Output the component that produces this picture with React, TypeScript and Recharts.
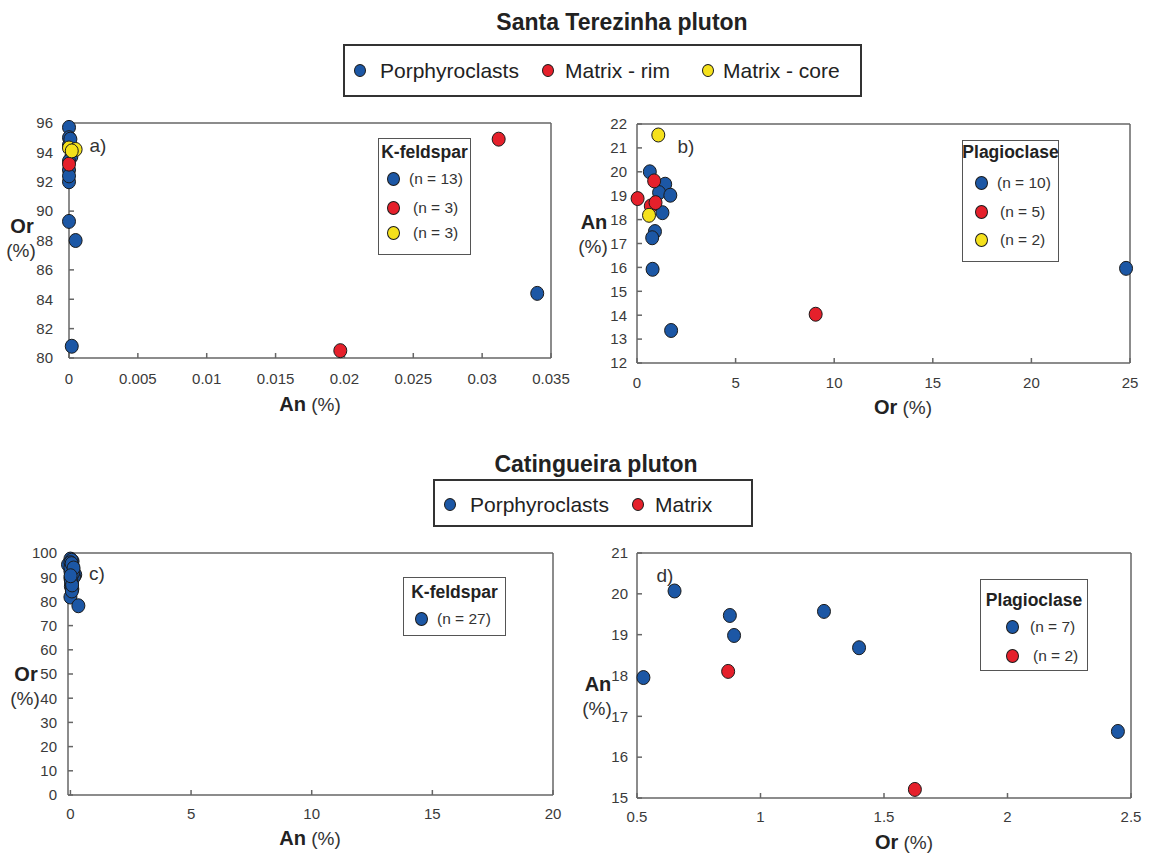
import React from 'react';
import { ScatterChart, Scatter, XAxis, YAxis } from 'recharts';

const BLUE = '#1c57a5';
const RED = '#e5202b';
const YELLOW = '#f5e11c';
const AXIS = '#666666';
const FONT = '"Liberation Sans", Arial, sans-serif';

// ---------- Panel a: Santa Terezinha K-feldspar (x = An %, y = Or %)
const aXTicks = [0, 0.005, 0.01, 0.015, 0.02, 0.025, 0.03, 0.035];
const aYTicks = [80, 82, 84, 86, 88, 90, 92, 94, 96];
const aBlueAn = [0, 0, 0, 0.00017, 0, 0, 0, 0.00048, 0.0002, 0.034, 0, 0, 0.0001];
const aBlueOr = [95.7, 95.0, 94.5, 93.7, 92.8, 92.0, 89.3, 88.0, 80.8, 84.4, 93.4, 92.4, 94.9];
const aRedAn = [0, 0.0312, 0.0197];
const aRedOr = [93.2, 94.9, 80.5];
const aYellowAn = [0, 0.00048, 0.0002];
const aYellowOr = [94.3, 94.2, 94.1];

// ---------- Panel b: Santa Terezinha plagioclase (x = Or %, y = An %)
const bXTicks = [0, 5, 10, 15, 20, 25];
const bYTicks = [12, 13, 14, 15, 16, 17, 18, 19, 20, 21, 22];
const bBlueOr = [0.65, 1.43, 1.12, 1.69, 1.29, 0.91, 0.77, 0.79, 1.73, 24.8];
const bBlueAn = [20.0, 19.48, 19.13, 19.02, 18.29, 17.5, 17.24, 15.92, 13.36, 15.96];
const bRedOr = [0.03, 0.87, 0.7, 0.94, 9.06];
const bRedAn = [18.88, 19.62, 18.57, 18.71, 14.04];
const bYellowOr = [1.08, 0.61];
const bYellowAn = [21.54, 18.18];

// ---------- Panel c: Catingueira K-feldspar (x = An %, y = Or %)
const cXTicks = [0, 5, 10, 15, 20];
const cYTicks = [0, 10, 20, 30, 40, 50, 60, 70, 80, 90, 100];
const cBlueAn = [0, 0.09, -0.1, 0.12, 0.2, 0, 0.07, 0.02, 0, 0.33, 0.05, 0.1, 0, 0.15, 0.03, 0.08, 0, 0.12, 0.04, 0.06, 0, 0.1, 0.02, 0.07, 0.05, 0.13, 0.01];
const cBlueOr = [97.5, 96.6, 95.2, 93.1, 91.0, 89.7, 88.3, 86.2, 81.8, 78.2, 97.0, 94.4, 92.5, 90.2, 87.5, 85.1, 96.0, 92.0, 89.0, 84.3, 94.0, 91.5, 88.8, 86.8, 95.6, 93.8, 90.6];

// ---------- Panel d: Catingueira plagioclase (x = Or %, y = An %)
const dXTicks = [0.5, 1, 1.5, 2, 2.5];
const dYTicks = [15, 16, 17, 18, 19, 20, 21];
const dBlueOr = [0.526, 0.652, 0.876, 0.893, 1.257, 1.399, 2.447];
const dBlueAn = [17.95, 20.07, 19.47, 18.98, 19.57, 18.68, 16.63];
const dRedOr = [0.869, 1.625];
const dRedAn = [18.1, 15.21];

const pts = (xs: number[], ys: number[]) => xs.map((x, i) => ({ x, y: ys[i] }));

const dot = (fill: string) => (props: any) => (
  <ellipse cx={props.cx} cy={props.cy} rx={6.5} ry={7} fill={fill} stroke="#1b1b1b" strokeWidth={1} />
);

type Series = { name: string; color: string; data: { x: number; y: number }[] };

function Panel(p: {
  left: number; top: number; width: number; height: number;
  px0: number; px1: number; py0: number; py1: number;
  xDomain: [number, number]; xTicks: number[];
  yDomain: [number, number]; yTicks: number[];
  xTickMargin: number; yTickMargin: number; series: Series[];
}) {
  const axisW = 40, axisH = 30, extra = 10;
  const margin = {
    left: p.px0 - p.left - axisW,
    right: p.left + p.width - p.px1 - extra,
    top: p.py0 - p.top - extra,
    bottom: p.top + p.height - p.py1 - axisH,
  };
  const line = { stroke: AXIS, strokeWidth: 1.5 };
  const tick = { fill: '#3a3a3a', fontSize: 15, fontFamily: FONT };
  return (
    <div style={{ position: 'absolute', left: p.left, top: p.top }}>
      <ScatterChart width={p.width} height={p.height} margin={margin}>
        <XAxis xAxisId="b" type="number" dataKey="x" orientation="bottom" domain={p.xDomain} ticks={p.xTicks} fontSize={15}
          interval={0} height={axisH} tickSize={-5} tickMargin={p.xTickMargin} axisLine={line} tickLine={line} tick={tick} />
        <XAxis xAxisId="t" type="number" dataKey="x" orientation="top" domain={p.xDomain} ticks={p.xTicks}
          interval={0} height={extra} tickSize={-5} axisLine={line} tickLine={line} tick={false} />
        <YAxis yAxisId="l" type="number" dataKey="y" orientation="left" domain={p.yDomain} ticks={p.yTicks} fontSize={15}
          interval={0} width={axisW} tickSize={-5} tickMargin={p.yTickMargin} axisLine={line} tickLine={line} tick={tick} />
        <YAxis yAxisId="r" type="number" dataKey="y" orientation="right" domain={p.yDomain} ticks={p.yTicks}
          interval={0} width={extra} tickSize={-5} axisLine={line} tickLine={line} tick={false} />
        {p.series.map((s) => (
          <Scatter key={s.name} name={s.name} xAxisId="b" yAxisId="l" data={s.data} fill={s.color}
            shape={dot(s.color)} isAnimationActive={false} />
        ))}
      </ScatterChart>
    </div>
  );
}

// centred text
const Txt = (p: { x: number; y: number; children: React.ReactNode; style?: React.CSSProperties }) => (
  <div style={{ position: 'absolute', left: p.x, top: p.y, transform: 'translate(-50%, -50%)', whiteSpace: 'nowrap', lineHeight: 1, color: '#222', ...p.style }}>
    {p.children}
  </div>
);
// left-aligned text, vertically centred
const LTxt = (p: { x: number; y: number; children: React.ReactNode; style?: React.CSSProperties }) => (
  <div style={{ position: 'absolute', left: p.x, top: p.y, transform: 'translate(0, -50%)', whiteSpace: 'nowrap', lineHeight: 1, color: '#222', ...p.style }}>
    {p.children}
  </div>
);

const Circle = ({ x, y, color, w = 13, h = 14 }: { x: number; y: number; color: string; w?: number; h?: number }) => (
  <span style={{ position: 'absolute', left: x - w / 2, top: y - h / 2, width: w, height: h, borderRadius: '50%', background: color, border: '1px solid #1b1b1b', boxSizing: 'border-box' }} />
);

const AxisTitle = ({ x, y, main }: { x: number; y: number; main: string }) => (
  <Txt x={x} y={y}>
    <span style={{ fontWeight: 'bold', fontSize: 20 }}>{main}</span>
    <span style={{ fontSize: 19, color: '#333' }}> (%)</span>
  </Txt>
);

const YTitle = ({ x, y, main }: { x: number; y: number; main: string }) => (
  <>
    <Txt x={x} y={y} style={{ fontWeight: 'bold', fontSize: 20 }}>{main}</Txt>
    <Txt x={x - 1} y={y + 24} style={{ fontSize: 19, color: '#333' }}>(%)</Txt>
  </>
);

const Box = ({ x0, x1, y0, y1, w = 1.5, c = '#555' }: { x0: number; x1: number; y0: number; y1: number; w?: number; c?: string }) => (
  <div style={{ position: 'absolute', left: x0, top: y0, width: x1 - x0, height: y1 - y0, border: `${w}px solid ${c}`, boxSizing: 'border-box', background: '#fff' }} />
);

function InnerLegend(p: { box: [number, number, number, number]; title: string; titleY: number; cx: number; ys: number[]; tx: number[]; items: { color: string; label: string }[] }) {
  const [x0, x1, y0, y1] = p.box;
  return (
    <>
      <Box x0={x0} x1={x1} y0={y0} y1={y1} />
      <Txt x={(x0 + x1) / 2} y={p.titleY} style={{ fontWeight: 'bold', fontSize: 17.5 }}>{p.title}</Txt>
      {p.items.map((it, i) => (
        <React.Fragment key={i}>
          <Circle x={p.cx} y={p.ys[i]} color={it.color} />
          <LTxt x={p.tx[i]} y={p.ys[i]} style={{ fontSize: 15.5, color: '#333' }}>{it.label}</LTxt>
        </React.Fragment>
      ))}
    </>
  );
}

function TopLegend(p: { box: [number, number, number, number]; y: number; cxs: number[]; txs: number[]; items: { color: string; label: string }[] }) {
  const [x0, x1, y0, y1] = p.box;
  return (
    <>
      <Box x0={x0} x1={x1} y0={y0} y1={y1} w={2} c="#333" />
      {p.items.map((it, i) => (
        <React.Fragment key={i}>
          <Circle x={p.cxs[i]} y={p.y} color={it.color} w={12} h={13} />
          <LTxt x={p.txs[i]} y={p.y} style={{ fontSize: 21 }}>{it.label}</LTxt>
        </React.Fragment>
      ))}
    </>
  );
}

export default function App() {
  return (
    <div style={{ position: 'absolute', left: 0, top: 0, width: 1149, height: 854, background: '#fff', fontFamily: FONT, overflow: 'hidden' }}>
      <Panel left={0} top={100} width={580} height={300} px0={69} px1={551} py0={123} py1={358}
        xDomain={[0, 0.035]} xTicks={aXTicks} yDomain={[80, 96]} yTicks={aYTicks} xTickMargin={20} yTickMargin={21}
        series={[
          { name: 'Porphyroclasts', color: BLUE, data: pts(aBlueAn, aBlueOr) },
          { name: 'Matrix - rim', color: RED, data: pts(aRedAn, aRedOr) },
          { name: 'Matrix - core', color: YELLOW, data: pts(aYellowAn, aYellowOr) },
        ]} />
      <Panel left={590} top={100} width={559} height={300} px0={637} px1={1130} py0={124} py1={363}
        xDomain={[0, 25]} xTicks={bXTicks} yDomain={[12, 22]} yTicks={bYTicks} xTickMargin={19} yTickMargin={15}
        series={[
          { name: 'Porphyroclasts', color: BLUE, data: pts(bBlueOr, bBlueAn) },
          { name: 'Matrix - rim', color: RED, data: pts(bRedOr, bRedAn) },
          { name: 'Matrix - core', color: YELLOW, data: pts(bYellowOr, bYellowAn) },
        ]} />
      <Panel left={0} top={530} width={580} height={300} px0={68} px1={553} py0={553} py1={795}
        xDomain={[0, 20]} xTicks={cXTicks} yDomain={[0, 100]} yTicks={cYTicks} xTickMargin={18} yTickMargin={16}
        series={[{ name: 'Porphyroclasts', color: BLUE, data: pts(cBlueAn, cBlueOr) }]} />
      <Panel left={590} top={530} width={559} height={300} px0={637} px1={1131} py0={553} py1={798}
        xDomain={[0.5, 2.5]} xTicks={dXTicks} yDomain={[15, 21]} yTicks={dYTicks} xTickMargin={18} yTickMargin={14}
        series={[
          { name: 'Porphyroclasts', color: BLUE, data: pts(dBlueOr, dBlueAn) },
          { name: 'Matrix', color: RED, data: pts(dRedOr, dRedAn) },
        ]} />

      {/* titles and main legends */}
      <Txt x={622} y={22} style={{ fontWeight: 'bold', fontSize: 23 }}>Santa Terezinha pluton</Txt>
      <TopLegend box={[343, 862, 44, 97]} y={70} cxs={[360, 548, 708]} txs={[380, 565, 723]} items={[
        { color: BLUE, label: 'Porphyroclasts' }, { color: RED, label: 'Matrix - rim' }, { color: YELLOW, label: 'Matrix - core' },
      ]} />
      <Txt x={596} y={464} style={{ fontWeight: 'bold', fontSize: 23 }}>Catingueira pluton</Txt>
      <TopLegend box={[433, 753, 479, 527]} y={504} cxs={[450, 638]} txs={[470, 655]} items={[
        { color: BLUE, label: 'Porphyroclasts' }, { color: RED, label: 'Matrix' },
      ]} />

      {/* panel labels */}
      <Txt x={98} y={145} style={{ fontSize: 19, color: '#333' }}>a)</Txt>
      <Txt x={686} y={146} style={{ fontSize: 19, color: '#333' }}>b)</Txt>
      <Txt x={97} y={573} style={{ fontSize: 19, color: '#333' }}>c)</Txt>
      <Txt x={665} y={575} style={{ fontSize: 19, color: '#333' }}>d)</Txt>

      {/* axis titles */}
      <AxisTitle x={310} y={404} main="An" />
      <AxisTitle x={903} y={407} main="Or" />
      <AxisTitle x={310} y={838} main="An" />
      <AxisTitle x={904} y={842} main="Or" />
      <YTitle x={22} y={226} main="Or" />
      <YTitle x={594} y={222} main="An" />
      <YTitle x={26} y={674} main="Or" />
      <YTitle x={598} y={684} main="An" />

      {/* inner legends */}
      <InnerLegend box={[378, 471, 138, 255]} title="K-feldspar" titleY={153} cx={393} ys={[179, 208, 233]} tx={[409, 413, 413]}
        items={[{ color: BLUE, label: '(n = 13)' }, { color: RED, label: '(n = 3)' }, { color: YELLOW, label: '(n = 3)' }]} />
      <InnerLegend box={[962, 1059, 140, 262]} title="Plagioclase" titleY={153} cx={981} ys={[183, 212, 240]} tx={[997, 1000, 1000]}
        items={[{ color: BLUE, label: '(n = 10)' }, { color: RED, label: '(n = 5)' }, { color: YELLOW, label: '(n = 2)' }]} />
      <InnerLegend box={[403, 506, 577, 636]} title="K-feldspar" titleY={593} cx={421} ys={[619]} tx={[437]}
        items={[{ color: BLUE, label: '(n = 27)' }]} />
      <InnerLegend box={[980, 1088, 579, 671]} title="Plagioclase" titleY={601} cx={1012} ys={[627, 656]} tx={[1030, 1033]}
        items={[{ color: BLUE, label: '(n = 7)' }, { color: RED, label: '(n = 2)' }]} />
    </div>
  );
}
